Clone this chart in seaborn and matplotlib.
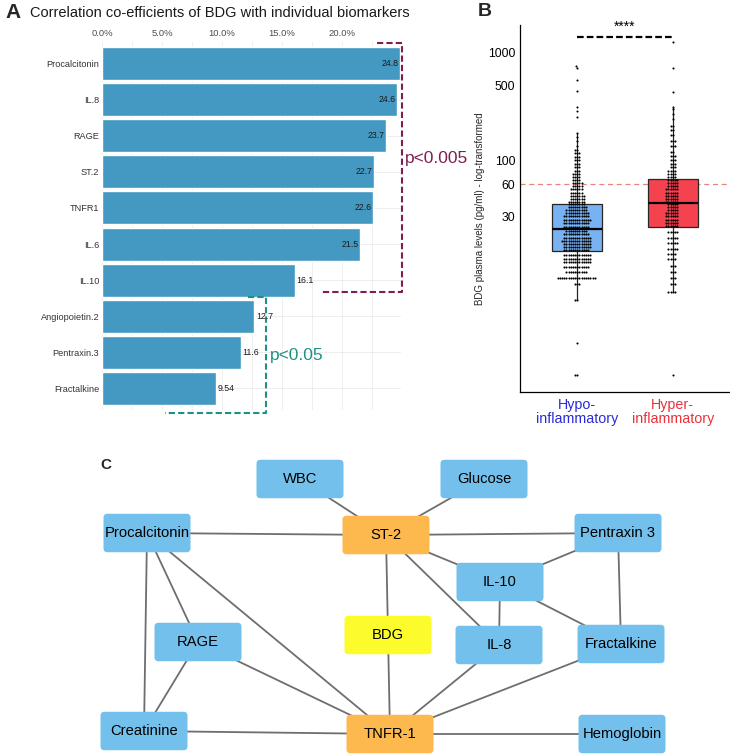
import numpy as np
import pandas as pd
import matplotlib
matplotlib.use('Agg')
import matplotlib.pyplot as plt
import seaborn as sns
from matplotlib import font_manager
from matplotlib.patches import FancyBboxPatch
from matplotlib.ticker import NullLocator

# panel A data
biomarkers = ['Procalcitonin', 'IL.8', 'RAGE', 'ST.2', 'TNFR1', 'IL.6', 'IL.10',
              'Angiopoietin.2', 'Pentraxin.3', 'Fractalkine']
corr_pct = [24.8, 24.6, 23.7, 22.7, 22.6, 21.5, 16.1, 12.7, 11.6, 9.54]

# panel B data (dot rows: level value + number of dots)
groups = ['Hypo-\ninflammatory', 'Hyper-\ninflammatory']
hypo_levels = [1.0, 2.0, 5.0, 7.1, 8.1, 9.2, 10.2, 11.4, 12.2, 13.2,
               14.6, 15.6, 16.6, 17.8, 19.1, 20.6, 22.1,
               24, 26, 28, 30, 32, 34.5, 37, 39,
               41, 44, 47, 50, 54, 58, 62, 66, 70, 75, 80, 86, 93, 100, 108,
               116, 125, 135, 150, 165, 180,
               250, 290, 315, 443, 557, 721, 750]
hypo_counts = [2, 1, 2, 3, 18, 10, 12, 13, 13, 13,
               12, 13, 13, 14, 13, 12, 10,
               12, 12, 13, 12, 11, 10, 9, 8,
               8, 7, 7, 6, 6, 5, 5, 4, 4, 4, 3, 3, 3, 3, 3,
               3, 2, 1, 1, 1, 1,
               1, 1, 1, 1, 1, 1, 1]
hyper_levels = [1.0, 6.0, 7.0, 8.0, 9.2, 10.5, 12, 13.5, 15, 17, 19, 21.5,
                24.5, 26, 28, 30, 32, 34.5, 37, 39,
                41, 44, 47, 50, 54, 58, 62, 66,
                70, 75, 80, 86, 93, 100, 110, 120, 135, 150, 170, 190, 210,
                240, 270, 300, 315,
                434, 716, 1265]
hyper_counts = [1, 4, 3, 3, 3, 3, 4, 4, 5, 5, 5, 5,
                6, 6, 6, 6, 6, 5, 5, 5,
                6, 6, 6, 6, 6, 5, 5, 5,
                4, 4, 4, 3, 3, 3, 3, 2, 3, 3, 2, 2, 2,
                1, 1, 1, 1,
                1, 1, 1]
cutoff = 60

# panel C network
node_names = ['WBC', 'Glucose', 'Procalcitonin', 'ST-2', 'Pentraxin 3', 'IL-10', 'RAGE',
              'BDG', 'IL-8', 'Fractalkine', 'Creatinine', 'TNFR-1', 'Hemoglobin']
node_kind = ['blue', 'blue', 'blue', 'hub', 'blue', 'blue', 'blue',
             'center', 'blue', 'blue', 'blue', 'hub', 'blue']
edges = [('WBC', 'ST-2'), ('Glucose', 'ST-2'), ('Procalcitonin', 'ST-2'),
         ('ST-2', 'Pentraxin 3'), ('ST-2', 'IL-10'), ('ST-2', 'BDG'), ('ST-2', 'IL-8'),
         ('Pentraxin 3', 'IL-10'), ('Pentraxin 3', 'Fractalkine'), ('IL-10', 'IL-8'),
         ('IL-10', 'Fractalkine'), ('Procalcitonin', 'Creatinine'), ('Procalcitonin', 'RAGE'),
         ('Procalcitonin', 'TNFR-1'), ('RAGE', 'Creatinine'), ('RAGE', 'TNFR-1'),
         ('BDG', 'TNFR-1'), ('IL-8', 'TNFR-1'), ('Fractalkine', 'TNFR-1'),
         ('Creatinine', 'TNFR-1'), ('TNFR-1', 'Hemoglobin')]
# layout (pixel positions of node centres)
node_pos = {'WBC': (300, 479), 'Glucose': (484, 479), 'Procalcitonin': (147, 533),
            'ST-2': (386, 535), 'Pentraxin 3': (618, 533), 'IL-10': (500, 582),
            'RAGE': (198, 642), 'BDG': (388, 635), 'IL-8': (499, 645),
            'Fractalkine': (621, 644), 'Creatinine': (144, 731), 'TNFR-1': (390, 734),
            'Hemoglobin': (622, 734)}
kind_color = {'blue': '#74c0ec', 'hub': '#fdb94e', 'center': '#fcfc2c'}


def pick_font():
    names = {f.name for f in font_manager.fontManager.ttflist}
    for n in ['Liberation Sans Narrow', 'Arial Narrow', 'Liberation Sans']:
        if n in names:
            return n
    return 'DejaVu Sans'


sns.set_theme(style='white')
FONT = pick_font()
narrow = FONT.endswith('Narrow')
k = 1.2 if narrow else 1.0   # narrow faces can run a bit larger
plt.rcParams['font.family'] = [FONT, 'DejaVu Sans']

W, H = 730, 754
fig = plt.figure(figsize=(W / 100, H / 100), dpi=100)


def px_axes(x0, y0, x1, y1):
    return fig.add_axes([x0 / W, 1 - y1 / H, (x1 - x0) / W, (y1 - y0) / H])


# ---- A: bar chart
axA = px_axes(102, 42, 400.8, 410)
sns.barplot(x=corr_pct, y=biomarkers, orient='h', color='#4499c2', saturation=1,
            width=0.914, ax=axA)
axA.set_xlim(0, 24.9)
axA.set_ylim(9.6, -0.6)
axA.xaxis.tick_top()
axA.set_xticks([0, 5, 10, 15, 20])
axA.set_xticks([2.5, 7.5, 12.5, 17.5, 22.5], minor=True)
axA.set_xticklabels([f'{t:.1f}%' for t in [0, 5, 10, 15, 20]])
axA.grid(True, which='both', axis='x', color='#ebebeb', lw=0.6)
axA.grid(True, axis='y', color='#ebebeb', lw=0.6)
axA.set_axisbelow(True)
for s in axA.spines.values():
    s.set_visible(False)
axA.tick_params(axis='x', which='both', length=0, labelsize=6.8 * k, colors='#4d4d4d', pad=3)
axA.tick_params(axis='y', length=0, labelsize=6.6 * k, colors='#333333', pad=2)
axA.set_xlabel('')
axA.set_ylabel('')
for i, v in enumerate(corr_pct):
    inside = v >= 20
    axA.annotate(f'{v:.3g}', (v, i), xytext=(-1 if inside else 1, 0),
                 textcoords='offset points', ha='right' if inside else 'left',
                 va='center', fontsize=6.3 * k, color='#1a1a1a')

mag, teal = '#7f1d54', '#1c9283'
dash = dict(ls=(0, (3, 1.5)), lw=1.5, clip_on=False)
axA.plot([22.9, 25.0, 25.0, 18.3], [-0.57, -0.57, 6.33, 6.33], color=mag, **dash)
axA.text(25.25, 2.62, 'p<0.005', color=mag, fontsize=12.5, va='center', ha='left')
axA.plot([12.2, 13.7, 13.7, 5.25], [6.47, 6.47, 9.68, 9.68], color=teal, **dash)
axA.text(14.0, 8.1, 'p<0.05', color=teal, fontsize=12.5, va='center', ha='left')

# ---- B: box + dot plot
df = pd.DataFrame({
    'group': np.repeat(groups, [sum(hypo_counts), sum(hyper_counts)]),
    'value': np.concatenate([np.repeat(hypo_levels, hypo_counts),
                             np.repeat(hyper_levels, hyper_counts)]),
})
axB = px_axes(520, 25, 730, 392)
axB.axhline(cutoff, color='#e8837c', lw=0.9, ls=(0, (4, 3)), zorder=0)
sns.boxplot(data=df, x='group', y='value', hue='group', order=groups, hue_order=groups,
            palette=['#79b2f2', '#f4424f'], saturation=1, width=0.52, log_scale=True,
            showfliers=False, linecolor='#262626', linewidth=0.9,
            medianprops=dict(color='black', linewidth=1.6),
            capprops=dict(linewidth=0), legend=False, ax=axB)
sns.swarmplot(data=df, x='group', y='value', order=groups, color='black', size=1.5,
              log_scale=True, ax=axB)
axB.set_ylim(0.7, 1810)
axB.set_xlim(-0.6, 1.6)
axB.set_yticks([30, 60, 100, 500, 1000])
axB.set_yticklabels(['30', '60', '100', '500', '1000'])
axB.yaxis.set_minor_locator(NullLocator())
for s in ['top', 'right']:
    axB.spines[s].set_visible(False)
for s in ['left', 'bottom']:
    axB.spines[s].set_color('black')
    axB.spines[s].set_linewidth(0.9)
axB.tick_params(axis='both', length=2.5, width=0.8, color='black', labelcolor='black')
axB.tick_params(axis='y', labelsize=8.8 * k, pad=1)
axB.tick_params(axis='x', labelsize=10.3 * k, pad=2)
for lab, c in zip(axB.get_xticklabels(), ['#2b2bd6', '#e8323c']):
    lab.set_color(c)
    lab.set_linespacing(1.0)
axB.set_xlabel('')
axB.set_ylabel('BDG plasma levels (pg/ml) - log-transformed', fontsize=7.0 * k, labelpad=2)
axB.plot([0, 1], [1410, 1410], color='black', lw=1.6, ls=(0, (3, 1.4)), clip_on=False)
axB.text(0.5, 1734, '****', ha='center', va='center', fontsize=10, color='black')

# ---- C: network
axC = px_axes(0, 440, 730, 754)
axC.set_xlim(0, W)
axC.set_ylim(H, 440)
axC.axis('off')
for a, b in edges:
    (x1, y1), (x2, y2) = node_pos[a], node_pos[b]
    axC.plot([x1, x2], [y1, y2], color='#6e6e6e', lw=1.3, zorder=1)
bw, bh = 87, 38.5
for name, kind in zip(node_names, node_kind):
    x, y = node_pos[name]
    axC.add_patch(FancyBboxPatch((x - bw / 2, y - bh / 2), bw, bh,
                                 boxstyle='round,pad=0,rounding_size=4',
                                 fc=kind_color[kind], ec='none', zorder=2))
    axC.text(x, y, name, ha='center', va='center', fontsize=10.6 * k, color='black', zorder=3)

# titles and panel letters
fig.text(30 / W, 1 - 13 / H, 'Correlation co-efficients of BDG with individual biomarkers',
         fontsize=10.5 * k, va='center', ha='left', color='#1a1a1a')
for letter, x, y, fs in [('A', 5, 13, 15), ('B', 478, 12, 14), ('C', 100, 465, 11)]:
    fig.text(x / W, 1 - y / H, letter, fontsize=fs, fontweight='bold', va='center',
             ha='left', family=['Liberation Sans', 'DejaVu Sans'])

fig.savefig('out.png', dpi=100)
